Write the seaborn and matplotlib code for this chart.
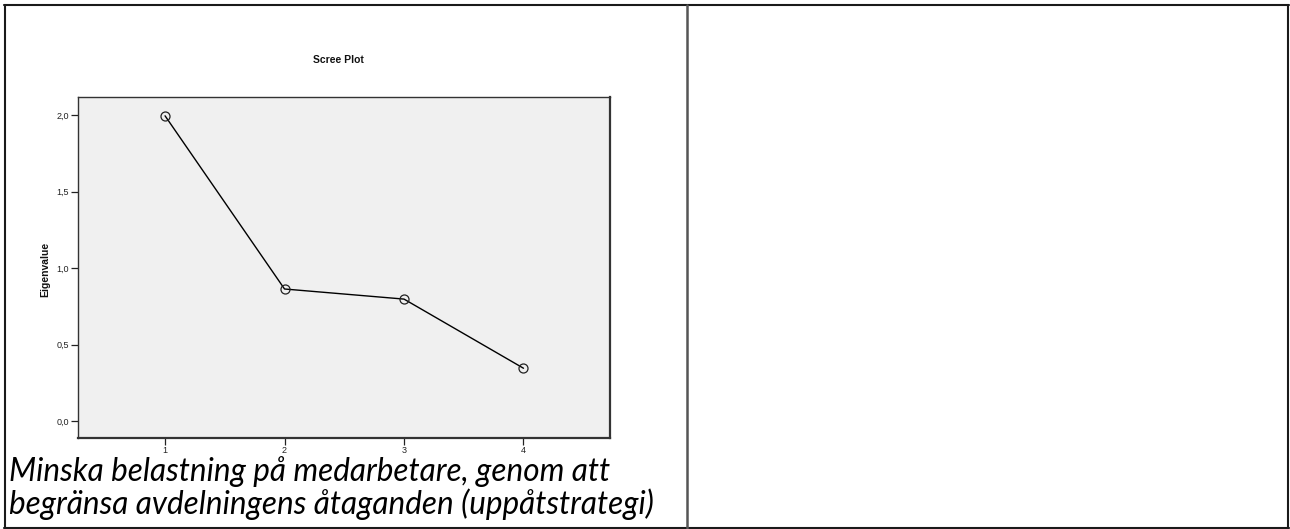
import matplotlib
matplotlib.use("Agg")
import matplotlib.pyplot as plt
from matplotlib.lines import Line2D
import seaborn as sns
import pandas as pd

# Scree plot data: eigenvalue per component
components = [1, 2, 3, 4]
eigenvalues = [1.995, 0.863, 0.797, 0.345]
y_ticks = [0.0, 0.5, 1.0, 1.5, 2.0]
y_tick_labels = ["0,0", "0,5", "1,0", "1,5", "2,0"]
x_tick_labels = ["1", "2", "3", "4"]
title = "Scree Plot"
y_label = "Eigenvalue"
caption_lines = ["Minska belastning på medarbetare, genom att",
                 "begränsa avdelningens åtaganden (uppåtstrategi)"]

W, H = 1290, 529
DPI = 100

sns.set_theme(style="white")
plt.rcParams["font.family"] = ["Liberation Sans", "DejaVu Sans"]

fig = plt.figure(figsize=(W / DPI, H / DPI), dpi=DPI)
fig.patch.set_facecolor("white")


def px_box(left, top, right, bottom):
    return [left / W, 1 - bottom / H, (right - left) / W, (bottom - top) / H]


ax = fig.add_axes(px_box(78.3, 97.3, 610, 437.7))
ax.set_facecolor("#F0F0F0")

df = pd.DataFrame({"component": components, "eigenvalue": eigenvalues})
sns.lineplot(data=df, x="component", y="eigenvalue", ax=ax, color="black",
             linewidth=1.0, marker="o", markersize=6.5,
             markerfacecolor="none", markeredgecolor="#222222",
             markeredgewidth=0.9)

ax.set_xlim(0.274, 4.724)
ax.set_ylim(-0.109, 2.116)
ax.set_xticks(components)
ax.set_xticklabels(x_tick_labels)
ax.set_yticks(y_ticks)
ax.set_yticklabels(y_tick_labels)
ax.tick_params(axis="both", which="major", direction="out", length=5,
               width=0.9, color="#222222", labelsize=6.5, pad=1.5,
               left=True, bottom=True, labelcolor="#222222")
ax.tick_params(axis="x", pad=0.8)
ax.set_xlabel("")
ax.set_ylabel("")

for side, sp in ax.spines.items():
    sp.set_visible(True)
    sp.set_color("#333333")
    sp.set_linewidth(1.6 if side in ("right", "bottom") else 1.0)

# Chart title and axis label
fig.text(338 / W, 1 - 60 / H, title, ha="center", va="center",
         fontsize=7.5, fontweight="bold", color="#111111")
fig.text(45 / W, 1 - 269 / H, y_label, ha="center", va="center",
         rotation=90, fontsize=7.5, fontweight="bold", color="#111111")

# Caption below the chart, sized to its cell width
cap_font = ["Lato", "DejaVu Sans"]
t1 = fig.text(9 / W, 1 - 481 / H, caption_lines[0], ha="left",
              va="baseline", fontsize=16, style="italic", family=cap_font,
              color="black")
t2 = fig.text(9 / W, 1 - 514 / H, caption_lines[1], ha="left",
              va="baseline", fontsize=16, style="italic", family=cap_font,
              color="black")
renderer = fig.canvas.get_renderer()
w2 = t2.get_window_extent(renderer).width
size = 16 * 645 / w2
t1.set_fontsize(size)
t2.set_fontsize(size)

# Table frame around the two cells
def hline(y, x0, x1, lw, color):
    fig.add_artist(Line2D([x0 / W, x1 / W], [1 - y / H, 1 - y / H],
                          transform=fig.transFigure, lw=lw, color=color))


def vline(x, y0, y1, lw, color):
    fig.add_artist(Line2D([x / W, x / W], [1 - y0 / H, 1 - y1 / H],
                          transform=fig.transFigure, lw=lw, color=color))


hline(5, 4, 1289, 1.5, "#1a1a1a")
hline(527.5, 4, 1289, 1.5, "#1a1a1a")
vline(5, 4.5, 528, 1.5, "#1a1a1a")
vline(1288, 4.5, 528, 1.5, "#1a1a1a")
vline(687, 5, 527.5, 1.8, "#555555")

fig.savefig("out.png", dpi=DPI, facecolor="white")
